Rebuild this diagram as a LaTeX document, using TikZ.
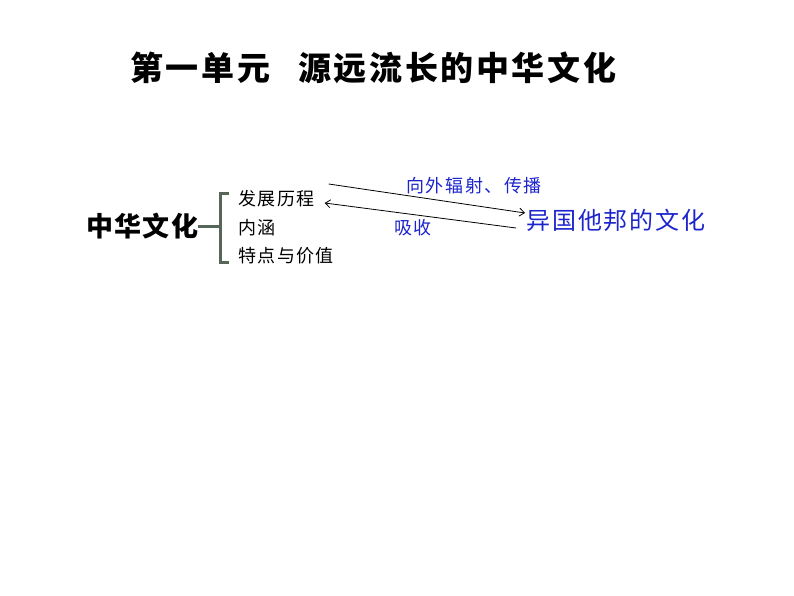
\documentclass[tikz,border=0pt]{standalone}
\usepackage{fontspec}
\usetikzlibrary{arrows.meta}
\newfontfamily\cjk{Noto Sans CJK SC}
\definecolor{kuohao}{RGB}{86,102,88}
\definecolor{lanse}{RGB}{28,36,204}
\tikzset{
  biaoti/.style={font=\cjk\bfseries\addfontfeature{LetterSpace=8}\fontsize{33}{33}\selectfont},
  zhuti/.style={font=\cjk\bfseries\addfontfeature{LetterSpace=5}\fontsize{27}{27}\selectfont},
  tiaomu/.style={font=\cjk\addfontfeature{LetterSpace=8}\fontsize{18}{18}\selectfont},
  lanzi/.style={text=lanse, font=\cjk\addfontfeature{LetterSpace=9}\fontsize{18}{18}\selectfont},
  waiguo/.style={text=lanse, font=\cjk\addfontfeature{LetterSpace=8}\fontsize{24}{24}\selectfont},
  jiantou/.style={draw=black, line width=0.8pt, -{Straight Barb[length=5pt,width=8pt]}},
}
\begin{document}
\begin{tikzpicture}[x=1pt, y=-1pt]\tikzstyle{every node}=[inner sep=0pt, anchor=west]
\useasboundingbox (0,0) rectangle (794,596);
% title
  \node[biaoti] (title) at (130,68) {第一单元\hspace{28pt}源远流长的中华文化};
% zhonghua wenhua
  \node[zhuti] (zhwh) at (86,226) {中华文化};
  \coordinate (kuo) at (220,226);
  \draw[kuohao, line width=3pt] (zhwh.east) -- (kuo);
  \draw[kuohao, line width=3pt] (229,193) -- (220,193) -- (220,262) -- (229,262);
% three items
  \node[tiaomu] (fazhan) at (238,199) {发展历程};
  \node[tiaomu] (neihan) at (238,228) {内涵};
  \node[tiaomu] (tedian) at (238,256) {特点与价值};
% other cultures
  \node[waiguo] (yiguo) at (526,220) {异国他邦的文化};
% arrows
  \draw[jiantou] ([xshift=14pt,yshift=15pt]fazhan.east) -- ([xshift=-1pt,yshift=7pt]yiguo.west);
  \draw[jiantou] ([xshift=-10pt,yshift=-8pt]yiguo.west) -- ([xshift=10pt,yshift=-4pt]fazhan.east);
  \node[lanzi, anchor=center] (chuanbo) at (474,186) {向外辐射、传播};
  \node[lanzi, anchor=center] (xishou) at (413,228) {吸收};
\end{tikzpicture}
\end{document}
